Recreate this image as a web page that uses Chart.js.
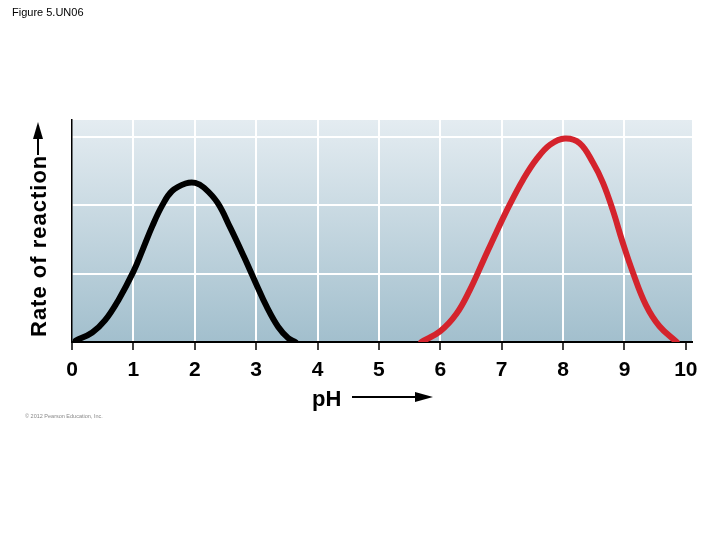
<!DOCTYPE html>
<html>
<head>
<meta charset="utf-8">
<script src="https://cdn.jsdelivr.net/npm/chart.js@4.4.1/dist/chart.umd.min.js"></script>
<style>
  html, body { margin: 0; padding: 0; background: #fff; }
  #wrap { width: 720px; height: 540px; }
</style>
</head>
<body>
<div id="wrap"><canvas id="chart" width="720" height="540"></canvas></div>
<script>
// pH tick labels on the x axis
const xTicks = [0, 1, 2, 3, 4, 5, 6, 7, 8, 9, 10];
// horizontal grid levels (no labels shown)
const yTicks = [0, 1, 2, 3];

// enzyme 1 (black curve)
const blackPH = [0.06, 0.33, 0.54, 0.76, 1.0, 1.15, 1.31, 1.47, 1.63, 1.85, 2.01, 2.15, 2.37, 2.58, 2.80, 3.0, 3.17, 3.36, 3.52, 3.64];
const blackRate = [0.02, 0.14, 0.32, 0.62, 1.03, 1.35, 1.70, 2.00, 2.21, 2.32, 2.33, 2.26, 2.04, 1.67, 1.25, 0.85, 0.52, 0.22, 0.06, 0.0];

// enzyme 2 (red curve)
const redPH = [5.69, 6.0, 6.26, 6.48, 6.70, 6.91, 7.13, 7.35, 7.57, 7.79, 8.03, 8.27, 8.49, 8.65, 8.81, 8.97, 9.14, 9.35, 9.57, 9.85];
const redRate = [0.0, 0.16, 0.41, 0.76, 1.19, 1.60, 2.01, 2.38, 2.68, 2.89, 2.98, 2.91, 2.62, 2.33, 1.93, 1.46, 1.01, 0.54, 0.23, 0.0];

const toPoints = (xs, ys) => xs.map((x, i) => ({ x: x, y: ys[i] }));

// gradient behind the plot
const plotBackground = {
    id: 'plotBackground',
    beforeDraw(chart) {
        const { ctx, chartArea: a } = chart;
        const g = ctx.createLinearGradient(0, a.top, 0, a.bottom);
        g.addColorStop(0, '#e4ecf1');
        g.addColorStop(1, '#a2bfcd');
        ctx.save();
        ctx.fillStyle = g;
        ctx.fillRect(a.left, a.top, a.right - a.left, a.bottom - a.top);
        ctx.restore();
    }
};

// titles, arrows and small captions
const captions = {
    id: 'captions',
    afterDraw(chart) {
        const ctx = chart.ctx;
        ctx.save();
        ctx.fillStyle = '#000';
        ctx.font = '11px "Liberation Sans", Arial, sans-serif';
        ctx.textBaseline = 'alphabetic';
        ctx.fillText('Figure 5.UN06', 12, 16);

        ctx.fillStyle = '#888';
        ctx.font = '5.5px "Liberation Sans", Arial, sans-serif';
        ctx.fillText('\u00a9 2012 Pearson Education, Inc.', 25, 418);

        // y axis title
        ctx.fillStyle = '#000';
        ctx.font = 'bold 22px "Liberation Sans", Arial, sans-serif';
        ctx.save();
        ctx.translate(46, 337);
        ctx.rotate(-Math.PI / 2);
        ctx.textAlign = 'left';
        ctx.letterSpacing = '1px';
        ctx.fillText('Rate of reaction', 0, 0);
        ctx.restore();

        // up arrow
        ctx.strokeStyle = '#000';
        ctx.lineWidth = 2;
        ctx.beginPath();
        ctx.moveTo(38, 155);
        ctx.lineTo(38, 134);
        ctx.stroke();
        ctx.beginPath();
        ctx.moveTo(38, 122);
        ctx.lineTo(43, 139);
        ctx.lineTo(33, 139);
        ctx.closePath();
        ctx.fill();

        // x axis title
        ctx.font = 'bold 22px "Liberation Sans", Arial, sans-serif';
        ctx.textAlign = 'left';
        ctx.fillText('pH', 312, 406);
        ctx.beginPath();
        ctx.moveTo(352, 397);
        ctx.lineTo(420, 397);
        ctx.stroke();
        ctx.beginPath();
        ctx.moveTo(433, 397);
        ctx.lineTo(415, 392);
        ctx.lineTo(415, 402);
        ctx.closePath();
        ctx.fill();
        ctx.restore();
    }
};

const ctx = document.getElementById('chart').getContext('2d');
const chart = new Chart(ctx, {
    type: 'scatter',
    data: {
        datasets: [{
            label: 'Enzyme 1',
            data: toPoints(blackPH, blackRate),
            showLine: true,
            borderColor: '#000000',
            borderWidth: 6,
            pointRadius: 0,
            tension: 0.4,
            borderCapStyle: 'round',
            borderJoinStyle: 'round'
        }, {
            label: 'Enzyme 2',
            data: toPoints(redPH, redRate),
            showLine: true,
            borderColor: '#d4232c',
            borderWidth: 6,
            pointRadius: 0,
            tension: 0.4,
            borderCapStyle: 'round',
            borderJoinStyle: 'round'
        }]
    },
    options: {
        responsive: false,
        animation: false,
        layout: {
            padding: { left: 72, right: 28, top: 120, bottom: 158 }
        },
        plugins: {
            legend: { display: false },
            tooltip: { enabled: false }
        },
        scales: {
            x: {
                type: 'linear',
                min: 0,
                max: 10.1,
                afterBuildTicks: function (scale) {
                    scale.ticks = xTicks.map(v => ({ value: v }));
                },
                afterFit: function (scale) {
                    scale.height = 40;
                },
                grid: {
                    color: c => (c.tick && c.tick.value > 0 && c.tick.value < 10) ? '#ffffff' : 'rgba(0,0,0,0)',
                    lineWidth: 2,
                    tickColor: '#000',
                    tickLength: 8,
                    tickWidth: 1.5
                },
                border: { display: true, color: '#000', width: 2 },
                ticks: {
                    color: '#000',
                    padding: 8,
                    font: { family: '"Liberation Sans", Arial, sans-serif', size: 21, weight: 'bold' }
                }
            },
            y: {
                type: 'linear',
                min: 0,
                max: 3.25,
                afterBuildTicks: function (scale) {
                    scale.ticks = yTicks.map(v => ({ value: v }));
                },
                afterFit: function (scale) {
                    scale.width = 0;
                },
                grid: {
                    color: c => (c.tick && c.tick.value > 0) ? '#ffffff' : 'rgba(0,0,0,0)',
                    lineWidth: 2,
                    drawTicks: false
                },
                border: { display: true, color: '#000', width: 1.5 },
                ticks: { display: false }
            }
        }
    },
    plugins: [plotBackground, captions]
});
</script>
</body>
</html>
